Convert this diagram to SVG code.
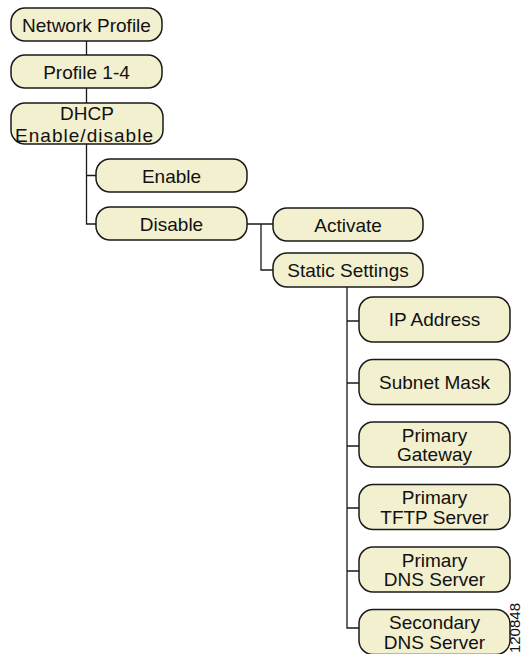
<svg xmlns="http://www.w3.org/2000/svg" width="524" height="654" viewBox="0 0 524 654">
<style>
.n rect{fill:#f2f0cf;stroke:#1a1a1a;stroke-width:1.5}
.n text{font-family:"Liberation Sans",Arial,Helvetica,sans-serif;font-size:19px;fill:#111;text-anchor:middle}
.c path{fill:none;stroke:#1a1a1a;stroke-width:1.3}
.tag{font-family:"Liberation Sans",Arial,sans-serif;font-size:15px;fill:#111}
</style>
<rect width="524" height="654" fill="#fff"/>
<g class="c" id="connectors">
<path d="M86.5 41V55M86.5 88V103M86.5 144V224H96M86.5 175.5H96"/>
<path d="M247 224H273M261 224V270H273"/>
<path d="M347 287V628H359M347 321H359M347 383H359M347 446H359M347 508H359M347 571H359"/>
</g>
<g class="n" id="network-profile"><rect x="11" y="8" width="151" height="33" rx="14"/><text x="86.5" y="31.5">Network Profile</text></g>
<g class="n" id="profile-1-4"><rect x="11" y="55" width="151" height="33" rx="14"/><text x="86.5" y="79">Profile 1-4</text></g>
<g class="n" id="dhcp"><rect x="11" y="103" width="152" height="41" rx="14"/><text x="87" y="120">DHCP</text><text x="84" y="142" textLength="138" lengthAdjust="spacing">Enable/disable</text></g>
<g class="n" id="enable"><rect x="96" y="159" width="151" height="33" rx="14"/><text x="171.5" y="182.5">Enable</text></g>
<g class="n" id="disable"><rect x="96" y="207" width="151" height="33" rx="14"/><text x="171.5" y="230.5">Disable</text></g>
<g class="n" id="activate"><rect x="273" y="208" width="150" height="33" rx="14"/><text x="348" y="231.5">Activate</text></g>
<g class="n" id="static-settings"><rect x="273" y="253" width="150" height="34" rx="14"/><text x="348" y="277">Static Settings</text></g>
<g class="n" id="ip-address"><rect x="359" y="297" width="151" height="45" rx="14"/><text x="434.5" y="326">IP Address</text></g>
<g class="n" id="subnet-mask"><rect x="359" y="359.5" width="151" height="45" rx="14"/><text x="434.5" y="389">Subnet Mask</text></g>
<g class="n" id="primary-gateway"><rect x="359" y="422" width="151" height="45" rx="14"/><text x="434.5" y="441.5">Primary</text><text x="434.5" y="461">Gateway</text></g>
<g class="n" id="primary-tftp"><rect x="359" y="484.5" width="151" height="45" rx="14"/><text x="434.5" y="504">Primary</text><text x="434.5" y="523.5">TFTP Server</text></g>
<g class="n" id="primary-dns"><rect x="359" y="547" width="151" height="45" rx="14"/><text x="434.5" y="566.5">Primary</text><text x="434.5" y="586">DNS Server</text></g>
<g class="n" id="secondary-dns"><rect x="359" y="609.5" width="151" height="45" rx="14"/><text x="434.5" y="629">Secondary</text><text x="434.5" y="648.5">DNS Server</text></g>
<text class="tag" transform="translate(520,603) rotate(-90)" text-anchor="end">120848</text>
</svg>
